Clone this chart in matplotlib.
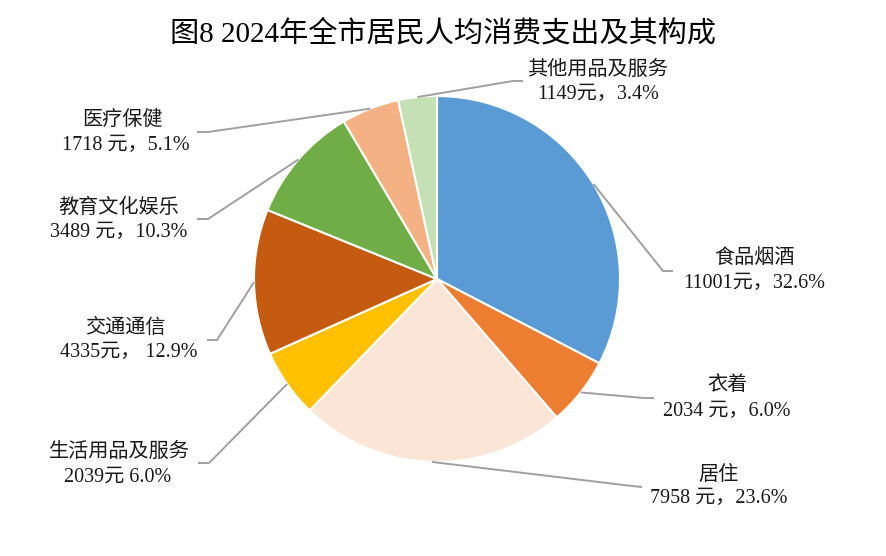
import numpy as np
import matplotlib.pyplot as plt

plt.rcParams['font.family'] = ['Liberation Serif', 'Noto Sans CJK SC', 'DejaVu Sans']

# data (clockwise from 12 o'clock)
names = ['食品烟酒', '衣着', '居住', '生活用品及服务', '交通通信', '教育文化娱乐', '医疗保健', '其他用品及服务']
values = [11001, 2034, 7958, 2039, 4335, 3489, 1718, 1149]
pcts = [32.6, 6.0, 23.6, 6.0, 12.9, 10.3, 5.1, 3.4]
# separators exactly as printed in the labels
unit_sep = ['', ' ', ' ', '', '', ' ', ' ', '']
pct_sep = ['，', '，', '，', ' ', '， ', '，', '，', '，']
colors = ['#5B9BD5', '#ED7D31', '#FBE5D6', '#FFC000', '#C55A11', '#70AD47', '#F4B183', '#C5E0B4']
title = '图8 2024年全市居民人均消费支出及其构成'

# layout in pixel coords (y from top)
W, H = 886, 556
cx, cy, R = 437, 279, 183
elbow_px = [(663, 271), (644, 398), (632, 486), (209, 463), (217, 340), (208, 219), (208, 132), (513, 81)]
end_px = [(673, 271), (654, 398), (642, 487), (198, 463), (207, 340), (197, 219), (197, 132), (523, 81)]
name_px = [(754, 258), (727, 385), (718, 475), (119, 452), (125, 328), (119, 208), (122, 120), (598, 70)]
val_px = [(754, 283), (727, 411), (719, 498), (118, 477), (129, 352), (119, 232), (126, 145), (598, 94)]

fig = plt.figure(figsize=(W / 100, H / 100), dpi=100)
ax = fig.add_axes([0, 0, 1, 1])

wedges, _ = ax.pie(values, colors=colors, startangle=90, counterclock=False,
                   center=(cx, H - cy), radius=R,
                   wedgeprops=dict(edgecolor='white', linewidth=1.5))

ax.set_xlim(0, W)
ax.set_ylim(0, H)
ax.set_aspect('equal')
ax.axis('off')

line_color = '#A0A0A0'
text_color = '#1a1a1a'
for i, w in enumerate(wedges):
    mid = np.deg2rad((w.theta1 + w.theta2) / 2)
    x0 = cx + R * np.cos(mid)
    y0 = (H - cy) + R * np.sin(mid)
    ex, ey = elbow_px[i]
    tx, ty = end_px[i]
    ax.plot([x0, ex, tx], [y0, H - ey, H - ty], color=line_color, lw=1.4,
            solid_capstyle='butt', zorder=1)
    label2 = f'{values[i]}{unit_sep[i]}元{pct_sep[i]}{pcts[i]:.1f}%'
    ax.text(name_px[i][0], H - name_px[i][1], names[i], ha='center', va='center',
            fontsize=14.5, color=text_color)
    ax.text(val_px[i][0], H - val_px[i][1], label2, ha='center', va='center',
            fontsize=14.5, color=text_color)

ax.text(443, H - 34, title, ha='center', va='center', fontsize=21,
        fontweight='medium', color='black')

fig.savefig('out.png', dpi=100)
